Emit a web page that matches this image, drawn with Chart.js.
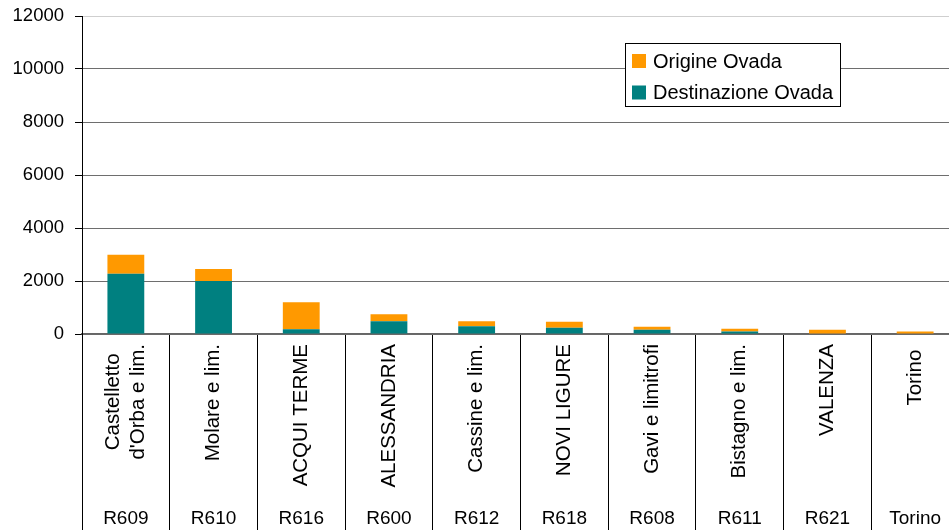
<!DOCTYPE html>
<html>
<head>
<meta charset="utf-8">
<script src="https://cdn.jsdelivr.net/npm/chart.js@4/dist/chart.umd.min.js"></script>
<style>
html,body{margin:0;padding:0;overflow:hidden;background:#fff;width:949px;height:530px}
canvas{display:block}
</style>
</head>
<body>
<canvas id="c" width="959" height="530"></canvas>
<script>
// ---- data ----
const places = [["Castelletto", "d'Orba e lim."], "Molare e lim.", "ACQUI TERME", "ALESSANDRIA", "Cassine e lim.", "NOVI LIGURE", "Gavi e limitrofi", "Bistagno e lim.", "VALENZA", "Torino "];
const codes = ["R609", "R610", "R616", "R600", "R612", "R618", "R608", "R611", "R621", "Torino"];
const destinazioneOvada = [2270, 2000, 180, 480, 290, 240, 160, 90, 0, 0];
const origineOvada = [720, 455, 1020, 270, 190, 225, 115, 110, 165, 90];
const seriesNames = ["Destinazione Ovada", "Origine Ovada"];
const yMin = 0, yMax = 12000, yStep = 2000;

const FAMILY = '"Liberation Sans", Arial, sans-serif';
Chart.defaults.font.family = FAMILY;
Chart.defaults.color = '#000';

// centre multi-line rotated category labels (lines centred on each other and on the tick)
const labelFix = {
  id: 'labelFix',
  beforeDraw(chart) {
    const sc = chart.scales.x;
    const items = sc.getLabelItems();
    const ctx = chart.ctx;
    items.forEach(it => {
      if (it._fixed) return;
      it._fixed = true;
      if (Array.isArray(it.label) && it.label.length > 1) {
        ctx.save();
        ctx.font = it.font.string;
        const w = Math.max(...it.label.map(s => ctx.measureText(s).width));
        ctx.restore();
        const n = it.label.length, lh = it.font.lineHeight;
        const t = it.options.translation;
        it.options.translation = [t[0] - (n - 1) * lh / 2, t[1] + w / 2];
        it.options.textAlign = 'center';
      }
    });
  }
};

// boxed legend inside the plot area
const boxLegend = {
  id: 'boxLegend',
  afterDraw(chart) {
    const ctx = chart.ctx;
    ctx.save();
    const x = 625.5, y = 43.5, w = 215, h = 63;
    ctx.fillStyle = '#fff';
    ctx.fillRect(x, y, w, h);
    ctx.strokeStyle = '#000';
    ctx.lineWidth = 1;
    ctx.strokeRect(x, y, w, h);
    const order = [chart.data.datasets[1], chart.data.datasets[0]];
    ctx.font = '20px ' + FAMILY;
    ctx.textBaseline = 'middle';
    ctx.textAlign = 'left';
    order.forEach((ds, i) => {
      const cy = 61 + i * 31.5;
      ctx.fillStyle = ds.backgroundColor;
      ctx.fillRect(632, cy - 7, 14, 14);
      ctx.fillStyle = '#000';
      ctx.fillText(ds.label, 653, cy + 1);
    });
    ctx.restore();
  }
};

new Chart(document.getElementById('c'), {
  type: 'bar',
  data: {
    labels: places,
    datasets: [
      { label: seriesNames[0], data: destinazioneOvada, backgroundColor: '#008080', borderWidth: 0 },
      { label: seriesNames[1], data: origineOvada, backgroundColor: '#FF9900', borderWidth: 0 }
    ]
  },
  options: {
    responsive: false,
    animation: false,
    devicePixelRatio: 1,
    layout: { padding: { top: 16, left: 0, right: 0, bottom: 0 } },
    datasets: { bar: { categoryPercentage: 1, barPercentage: 0.42 } },
    plugins: { legend: { display: false }, tooltip: { enabled: false }, title: { display: false } },
    scales: {
      x: {
        type: 'category',
        stacked: true,
        offset: true,
        weight: 0,
        afterFit(s) { s.height = 166; },
        grid: { offset: true, drawOnChartArea: false, color: '#000', tickLength: 196, lineWidth: 1 },
        border: { color: '#666', width: 1.5 },
        ticks: { autoSkip: false, minRotation: 90, maxRotation: 90, padding: -186, font: { size: 20.5 }, color: '#000' }
      },
      x2: {
        type: 'category',
        labels: codes,
        position: 'bottom',
        offset: true,
        weight: 1,
        afterFit(s) { s.height = 30; },
        grid: { display: false, drawTicks: false, tickLength: 0 },
        border: { display: false },
        ticks: { autoSkip: false, maxRotation: 0, minRotation: 0, padding: 7, font: { size: 19 }, color: '#000' }
      },
      y: {
        stacked: true,
        min: yMin,
        max: yMax,
        afterFit(s) { s.width = 82; s.paddingTop = 11; s.paddingBottom = 11; },
        grid: {
          color: c => (c.tick && c.tick.value === yMax) ? '#cfcfcf' : '#6e6e6e',
          tickColor: '#000',
          tickLength: 7,
          lineWidth: 1
        },
        border: { color: '#000', width: 1 },
        ticks: { stepSize: yStep, padding: 11, font: { size: 18.5 }, color: '#000', callback: v => String(v) }
      }
    }
  },
  plugins: [labelFix, boxLegend]
});
</script>
</body>
</html>
